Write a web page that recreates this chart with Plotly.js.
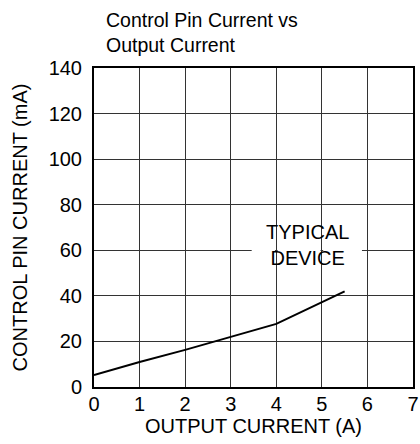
<!DOCTYPE html>
<html><head><meta charset="utf-8">
<script src="https://cdn.plot.ly/plotly-3.0.1.min.js"></script>
<style>html,body{margin:0;padding:0;background:#fff}</style>
</head><body>
<div id="chart" style="width:420px;height:444px"></div>
<script>
const outputCurrent = [0, 1, 2, 3, 4, 5.5];
const controlPinCurrent = [5.2, 11, 16.3, 22, 27.7, 42];
const xTicks = [0, 1, 2, 3, 4, 5, 6, 7];
const yTicks = [0, 20, 40, 60, 80, 100, 120, 140];
const titleText = 'Control Pin Current vs<br>Output Current';
const noteText = 'TYPICAL<br>DEVICE';

const font = 'Liberation Sans, Arial, sans-serif';
const trace = {
  x: outputCurrent, y: controlPinCurrent, type: 'scatter', mode: 'lines',
  line: {color: '#000', width: 2}, hoverinfo: 'skip', showlegend: false
};
const layout = {
  width: 420, height: 444,
  margin: {l: 94, r: 7, t: 68, b: 57},
  paper_bgcolor: '#fff', plot_bgcolor: '#fff',
  font: {family: font, size: 19, color: '#000'},
  xaxis: {range: [0, 7], tickvals: xTicks, ticktext: xTicks.map(String), showgrid: true, gridcolor: '#333', gridwidth: 1,
          zeroline: false, showline: true, linecolor: '#000', linewidth: 2, mirror: true, ticks: '', ticklabelstandoff: -2,
          tickfont: {size: 20},
          title: {text: 'OUTPUT CURRENT (A)', standoff: 4, font: {size: 20}}},
  yaxis: {range: [0, 140], tickvals: yTicks, ticktext: yTicks.map(String), showgrid: true, gridcolor: '#333', gridwidth: 1,
          zeroline: false, showline: true, linecolor: '#000', linewidth: 2, mirror: true, ticks: '', ticklabelstandoff: 6,
          tickfont: {size: 20},
          title: {text: 'CONTROL PIN CURRENT (mA)', standoff: 16, font: {size: 20}}},
  shapes: [
    {type: 'line', xref: 'x', yref: 'y', x0: 3.46, x1: 3.97, y0: 60, y1: 60, line: {color: '#fff', width: 3}, layer: 'between'},
    {type: 'line', xref: 'x', yref: 'y', x0: 4.03, x1: 4.97, y0: 60, y1: 60, line: {color: '#fff', width: 3}, layer: 'between'},
    {type: 'line', xref: 'x', yref: 'y', x0: 5.03, x1: 5.88, y0: 60, y1: 60, line: {color: '#fff', width: 3}, layer: 'between'}
  ],
  annotations: [
    {text: titleText, x: 0.031, y: 1.19, xref: 'paper', yref: 'paper', xanchor: 'left', yanchor: 'top', showarrow: false,
     align: 'left', font: {family: font, size: 19.5, color: '#000'}},
    {text: noteText, x: 4.68, y: 62.3, xref: 'x', yref: 'y', showarrow: false, font: {family: font, size: 20, color: '#000'}, align: 'center'}
  ]
};
Plotly.newPlot('chart', [trace], layout, {staticPlot: true, displayModeBar: false});
</script>
</body></html>
